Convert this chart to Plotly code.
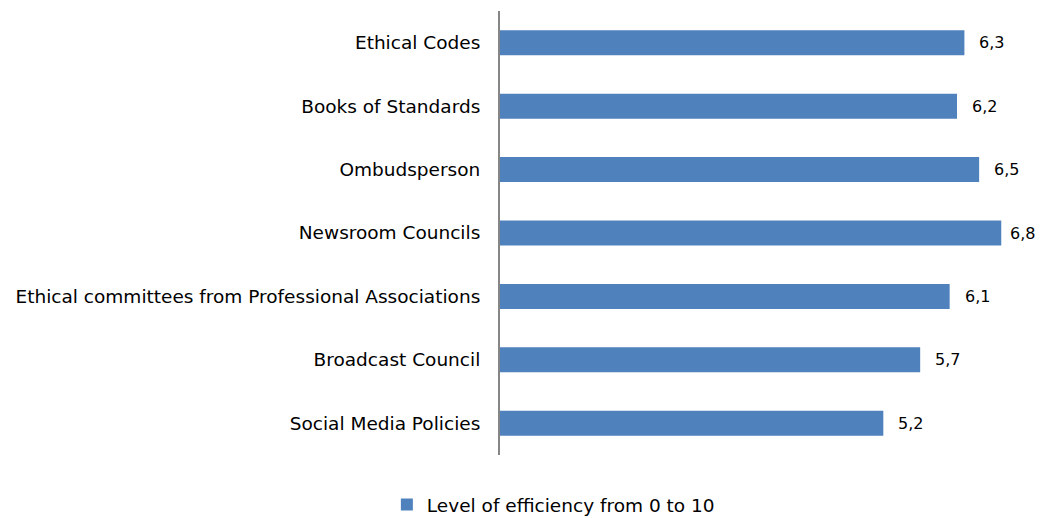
import plotly.graph_objects as go

categories = [
    "Ethical Codes",
    "Books of Standards",
    "Ombudsperson",
    "Newsroom Councils",
    "Ethical committees from Professional Associations",
    "Broadcast Council",
    "Social Media Policies",
]
values = [6.3, 6.2, 6.5, 6.8, 6.1, 5.7, 5.2]
series_name = "Level of efficiency from 0 to 10"
value_labels = [f"{v:.1f}".replace(".", ",") for v in values]

FONT = "DejaVu Sans"

fig = go.Figure()
fig.add_trace(go.Bar(
    y=categories,
    x=values,
    orientation="h",
    name=series_name,
    marker=dict(color="#4F81BD", line=dict(width=0)),
    showlegend=True,
))

vmax = max(values)
for c, v, t in zip(categories, values, value_labels):
    # the longest bar's label is pulled in closer so it stays inside the chart
    shift = 7 if v == vmax else 13
    fig.add_annotation(x=v, y=c, text=t, showarrow=False, xanchor="left",
                       xshift=shift, font=dict(family=FONT, size=16, color="#000000"))

fig.update_layout(
    width=1038, height=510,
    margin=dict(l=492, r=30, t=3, b=63),
    paper_bgcolor="white", plot_bgcolor="white",
    bargap=0.606,
    font=dict(family=FONT, size=18.5, color="#000000"),
    xaxis=dict(range=[0, 7], visible=False, showgrid=False, zeroline=False),
    yaxis=dict(autorange="reversed", showline=True, linecolor="#868686", linewidth=2,
               ticks="", ticklabelstandoff=14, showgrid=False, zeroline=False,
               tickfont=dict(family=FONT, size=18.5, color="#000000")),
    legend=dict(orientation="h", xref="container", yref="container",
                x=0.5254, xanchor="center", y=0.0255, yanchor="middle",
                font=dict(family=FONT, size=18.5, color="#000000"),
                itemwidth=30),
)

fig.write_html("out.html")
